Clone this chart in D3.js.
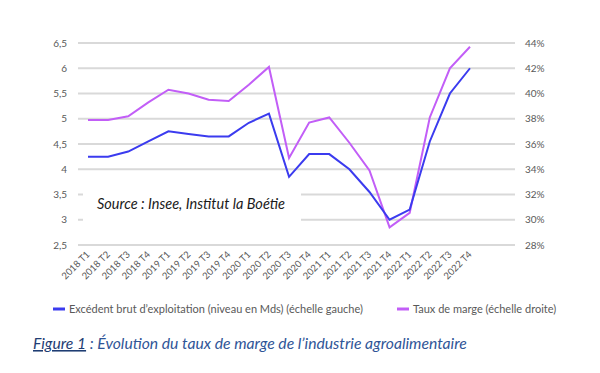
<!DOCTYPE html>
<html>
<head>
<meta charset="utf-8">
<script src="https://cdn.jsdelivr.net/npm/d3@7"></script>
<style>
  body { margin: 0; background: #fff; }
  svg { display: block; }
</style>
</head>
<body>
<div id="chart"></div>
<script>
// Data
var quarters = ["2018 T1", "2018 T2", "2018 T3", "2018 T4",
    "2019 T1", "2019 T2", "2019 T3", "2019 T4",
    "2020 T1", "2020 T2", "2020 T3", "2020 T4",
    "2021 T1", "2021 T2", "2021 T3", "2021 T4",
    "2022 T1", "2022 T2", "2022 T3", "2022 T4"];
var ebe = [4.25, 4.25, 4.35, 4.55, 4.75, 4.7, 4.65, 4.65, 4.92, 5.1,
    3.85, 4.3, 4.3, 4.0, 3.55, 3.0, 3.2, 4.55, 5.5, 6.0];
var tauxMarge = [37.9, 37.9, 38.2, 39.3, 40.3, 40.0, 39.5, 39.4, 40.7, 42.1,
    34.9, 37.7, 38.1, 36.1, 33.9, 29.4, 30.55, 38.1, 42.0, 43.7];
var leftTicks = [2.5, 3, 3.5, 4, 4.5, 5, 5.5, 6, 6.5];
var rightTicks = [28, 30, 32, 34, 36, 38, 40, 42, 44];
var legendLabels = ["Excédent brut d\u2019exploitation (niveau en Mds) (échelle gauche)",
    "Taux de marge (échelle droite)"];

var width = 600, height = 373;
var blue = "#3b3bef", purple = "#c25ef7", grey = "#595959";

var svg = d3.select("#chart").append("svg")
    .attr("width", width)
    .attr("height", height);

// Scales
var x = d3.scalePoint().domain(quarters).range([88, 470]);
var yLeft = d3.scaleLinear().domain([2.5, 6.5]).range([245, 43]);
var yRight = d3.scaleLinear().domain([28, 44]).range([245, 43]);

// Gridlines
svg.append("g")
    .attr("class", "grid")
    .selectAll("line")
    .data(leftTicks)
    .enter()
    .append("line")
    .attr("x1", 78)
    .attr("x2", 515)
    .attr("y1", function(d) { return yLeft(d); })
    .attr("y2", function(d) { return yLeft(d); })
    .attr("stroke", "#d9d9d9")
    .attr("stroke-width", 2);

// Left axis
var leftAxis = svg.append("g")
    .attr("transform", "translate(72,0)")
    .call(d3.axisLeft(yLeft).tickValues(leftTicks).tickSize(0)
        .tickFormat(function(d) { return String(d).replace(".", ","); }));
leftAxis.select(".domain").remove();

// Right axis
var rightAxis = svg.append("g")
    .attr("transform", "translate(520,0)")
    .call(d3.axisRight(yRight).tickValues(rightTicks).tickSize(0)
        .tickFormat(function(d) { return d + "%"; }));
rightAxis.select(".domain").remove();

svg.selectAll(".tick text")
    .attr("fill", grey)
    .style("font-family", "Lato, sans-serif")
    .style("font-size", "10px");
leftAxis.selectAll(".tick text").attr("x", -5);
rightAxis.selectAll(".tick text").attr("x", 5);

// X labels
var xAxis = svg.append("g")
    .attr("transform", "translate(0,245)")
    .call(d3.axisBottom(x).tickSize(0));
xAxis.select(".domain").remove();
xAxis.selectAll(".tick text")
    .attr("fill", grey)
    .style("font-family", "Lato, sans-serif")
    .style("font-size", "9.5px")
    .attr("text-anchor", "end")
    .attr("dy", 0)
    .attr("y", 0)
    .attr("transform", "translate(2,10) rotate(-45)");

// Source box (hides gridlines behind it)
var source = svg.append("g").attr("class", "source");
source.append("rect")
    .attr("x", 83)
    .attr("y", 183)
    .attr("width", 218)
    .attr("height", 45)
    .attr("fill", "#fff");
source.append("text")
    .attr("x", 97)
    .attr("y", 209)
    .attr("fill", "#1a1a1a")
    .style("font-family", "Lato, sans-serif")
    .style("font-style", "italic")
    .style("font-size", "14.5px")
    .text("Source : Insee, Institut la Boétie");

// Lines
var lineLeft = d3.line()
    .x(function(d, i) { return x(quarters[i]); })
    .y(function(d) { return yLeft(d); });
var lineRight = d3.line()
    .x(function(d, i) { return x(quarters[i]); })
    .y(function(d) { return yRight(d); });

svg.append("path")
    .datum(tauxMarge)
    .attr("d", lineRight)
    .attr("fill", "none")
    .attr("stroke", purple)
    .attr("stroke-width", 2);

svg.append("path")
    .datum(ebe)
    .attr("d", lineLeft)
    .attr("fill", "none")
    .attr("stroke", blue)
    .attr("stroke-width", 2);

// Legend
var legend = svg.append("g").attr("class", "legend");
var legendX = [53, 397];
[blue, purple].forEach(function(c, i) {
    legend.append("line")
        .attr("x1", legendX[i])
        .attr("x2", legendX[i] + 12)
        .attr("y1", 309)
        .attr("y2", 309)
        .attr("stroke", c)
        .attr("stroke-width", 3);
    legend.append("text")
        .attr("x", legendX[i] + 16)
        .attr("y", 312.5)
        .attr("fill", grey)
        .style("font-family", "Lato, sans-serif")
        .style("font-size", "11px")
        .text(legendLabels[i]);
});

// Caption
var caption = svg.append("text")
    .attr("x", 33)
    .attr("y", 349)
    .attr("fill", "#2f5597")
    .style("font-family", "Lato, sans-serif")
    .style("font-style", "italic")
    .style("font-size", "15.7px");
caption.append("tspan")
    .attr("fill", "#1f3d73")
    .style("text-decoration", "underline")
    .text("Figure 1");
caption.append("tspan")
    .text(" : Évolution du taux de marge de l\u2019industrie agroalimentaire");
</script>
</body>
</html>
